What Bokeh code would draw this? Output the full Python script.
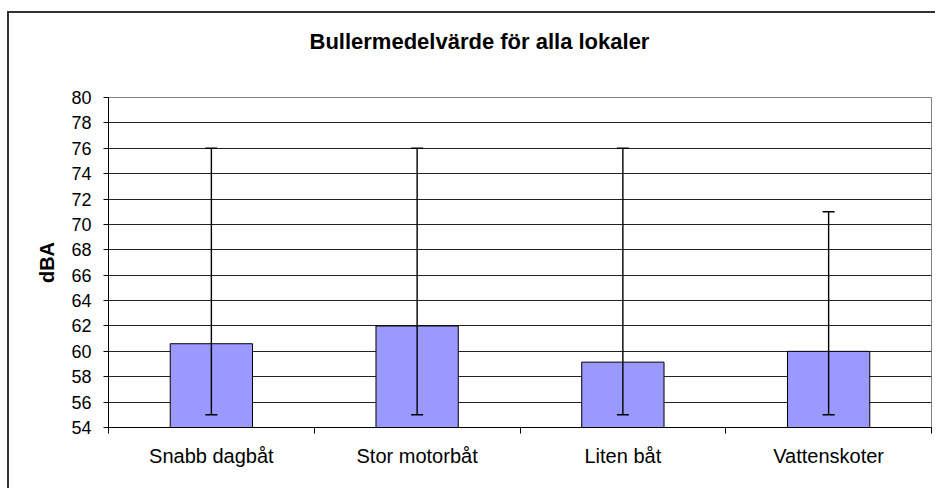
from bokeh.plotting import figure
from bokeh.models import Range1d, FixedTicker, Whisker, TeeHead, ColumnDataSource, Title
from bokeh.embed import file_html
from bokeh.resources import INLINE

categories = ["Snabb dagbåt", "Stor motorbåt", "Liten båt", "Vattenskoter"]
means = [60.6, 62.0, 59.15, 60.0]
err_low = [55, 55, 55, 55]
err_high = [76, 76, 76, 71]
y_ticks = list(range(54, 81, 2))

xs = [i + 0.5 for i in range(len(categories))]
src = ColumnDataSource(dict(x=xs, top=means, lo=err_low, hi=err_high))

FONT = "Liberation Sans"

p = figure(width=928, height=477, output_backend="svg", toolbar_location=None,
           x_range=Range1d(0, len(categories)), y_range=Range1d(54, 80),
           min_border_left=99, min_border_top=84, min_border_right=6, min_border_bottom=63)
p.styles = {"border-left": "2px solid #333333", "border-top": "2px solid #333333",
            "margin-left": "7px", "margin-top": "11px"}
p.background_fill_color = "white"
p.border_fill_color = "white"
p.outline_line_color = "#808080"
p.outline_line_width = 1

spacer = Title(text=" ", text_font=FONT, text_font_size="29px", standoff=0)
p.add_layout(spacer, "above")
t = Title(text="Bullermedelvärde för alla lokaler", align="left", offset=201,
          text_font=FONT, text_font_size="22px", text_font_style="bold",
          text_color="black", standoff=20)
p.add_layout(t, "above")

p.vbar(x="x", top="top", bottom=54, width=0.4, source=src,
       fill_color="#9999FF", line_color="black", line_width=1)

w = Whisker(base="x", upper="hi", lower="lo", source=src, line_color="black", line_width=1.4,
            level="overlay",
            upper_head=TeeHead(size=12, line_color="black", line_width=1.4),
            lower_head=TeeHead(size=12, line_color="black", line_width=1.4))
p.add_layout(w)

# y axis
p.yaxis.ticker = FixedTicker(ticks=y_ticks, minor_ticks=[])
p.yaxis.axis_line_color = "black"
p.yaxis.major_tick_out = 5
p.yaxis.major_tick_in = 0
p.yaxis.major_tick_line_color = "black"
p.yaxis.major_label_text_font = FONT
p.yaxis.major_label_text_font_size = "18px"
p.yaxis.major_label_text_color = "black"
p.yaxis.major_label_standoff = 12
p.yaxis.axis_label = "dBA"
p.yaxis.axis_label_text_font = FONT
p.yaxis.axis_label_text_font_size = "20px"
p.yaxis.axis_label_text_font_style = "bold"
p.yaxis.axis_label_text_color = "black"
p.yaxis.axis_label_standoff = 10

# x axis
p.xaxis.ticker = FixedTicker(ticks=xs, minor_ticks=list(range(len(categories) + 1)))
p.xaxis.major_label_overrides = {x: c for x, c in zip(xs, categories)}
p.xaxis.axis_line_color = "black"
p.xaxis.major_tick_line_color = None
p.xaxis.major_tick_out = 0
p.xaxis.major_tick_in = 0
p.xaxis.minor_tick_line_color = "black"
p.xaxis.minor_tick_out = 6
p.xaxis.minor_tick_in = 0
p.xaxis.major_label_text_font = FONT
p.xaxis.major_label_text_font_size = "20px"
p.xaxis.major_label_text_color = "black"
p.xaxis.major_label_standoff = 11

p.xgrid.grid_line_color = None
p.ygrid.ticker = FixedTicker(ticks=y_ticks[1:-1])
p.ygrid.grid_line_color = "#222222"
p.ygrid.grid_line_width = 1

open("out.html", "w").write(file_html(p, INLINE))
